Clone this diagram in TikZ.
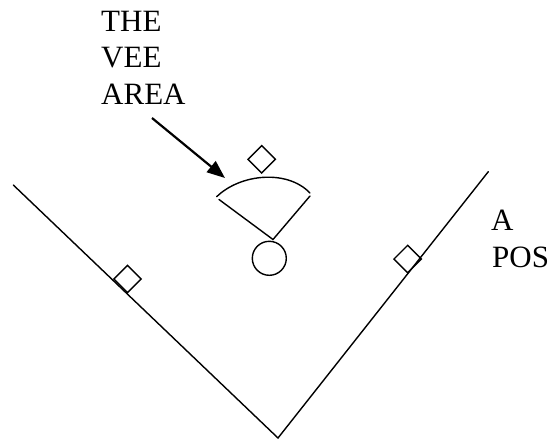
\documentclass[tikz,border=0pt]{standalone}
\usepackage{fontspec}
\setmainfont{Liberation Serif}
\usetikzlibrary{shapes.geometric,arrows.meta}
\begin{document}
\begin{tikzpicture}[x=1pt,y=-1pt,
  lbl/.style={anchor=base west,inner sep=0pt,font=\fontsize{31}{37.5}\selectfont},
  ln/.style={line width=1.4pt,line cap=round},
  dia/.style={draw,diamond,aspect=1,minimum width=28pt,minimum height=28pt,inner sep=0pt,line width=1.4pt},
  ball/.style={draw,circle,minimum size=34pt,inner sep=0pt,line width=1.4pt}]
\useasboundingbox (0,0) rectangle (550,440);
% labels
\node[lbl] (t1) at (101,31) {THE};
\node[lbl] (t2) at (101,67.5) {VEE};
\node[lbl] (t3) at (101,104.5) {AREA};
\node[lbl] (p1) at (491,230.7) {A};
\node[lbl] (p2) at (492,267) {POS};
% vee lines
\coordinate (lt) at (13.3,185);
\coordinate (rt) at (488.3,171.7);
\coordinate (bot) at (278,438);
\draw[ln] (lt) -- (bot) -- (rt);
% diamonds
\node[dia] (dl) at (127.5,279) {};
\node[dia] (dr) at (407.7,259) {};
\node[dia] (dt) at (261.7,159.3) {};
% fan
\coordinate (fl) at (219,199.5);
\coordinate (fr) at (310,196);
\coordinate (fa) at (273,239.5);
\coordinate (al) at (216.7,196.7);
\coordinate (ar) at (310,193);
\draw[ln] (al) .. controls (240,174) and (287,169) .. (ar);
\draw[ln] (fl) -- (fa) -- (fr);
\node[ball] (c) at (269.3,258.3) {};
% arrow
\coordinate (a1) at (152,118);
\coordinate (a2) at (225,178);
\draw[line width=2.2pt,-{Triangle[length=18pt,width=14pt]}] (a1) -- (a2);
\end{tikzpicture}
\end{document}
